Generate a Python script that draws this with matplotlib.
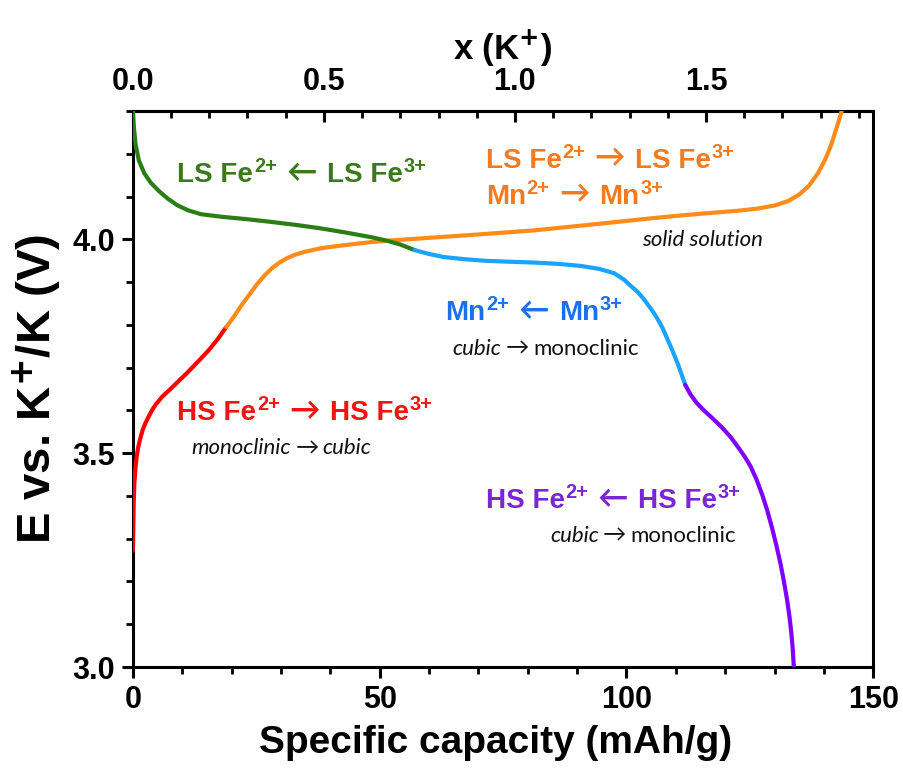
import matplotlib
matplotlib.use("Agg")
import matplotlib.pyplot as plt
from matplotlib.font_manager import FontProperties
import numpy as np

# ---- charge curve (K+ extraction) ----
charge_cap = [0.0, 0.08, 0.16, 0.3, 0.55, 0.8, 1.1, 1.5, 2.0, 2.6, 3.3, 4.0, 4.7,
              6.0, 7.6, 9.2, 10.9, 13.0, 15.3, 17.2, 18.9, 20.5, 22.0, 23.6, 25.2,
              26.7, 28.2, 29.7, 31.2, 32.8, 34.8, 37.9, 41.0, 44.6, 48.5, 52.8,
              59.0, 66.7, 74.0, 81.1, 88.0, 95.6, 103.0, 110.0, 116.0, 122.5,
              126.5, 130.2, 132.8, 135.0, 137.0, 138.8, 140.3, 141.5, 142.6, 143.6]
charge_volt = [3.272, 3.330, 3.385, 3.430, 3.469, 3.495, 3.515, 3.535, 3.555, 3.572,
               3.588, 3.603, 3.615, 3.633, 3.650, 3.668, 3.687, 3.712, 3.740, 3.767,
               3.795, 3.820, 3.846, 3.871, 3.896, 3.916, 3.933, 3.946, 3.956, 3.964,
               3.971, 3.979, 3.984, 3.989, 3.994, 3.998, 4.003, 4.009, 4.015, 4.021,
               4.029, 4.038, 4.047, 4.055, 4.061, 4.067, 4.072, 4.080, 4.090, 4.105,
               4.126, 4.155, 4.188, 4.222, 4.262, 4.300]
charge_breaks = [18.9]
charge_colors = ["#ff0000", "#ff8c1a"]

# ---- discharge curve (K+ insertion) ----
discharge_cap = [0.0, 0.2, 0.55, 1.2, 2.3, 3.6, 5.2, 7.0, 9.0, 11.2, 13.8, 18.0,
                 23.4, 28.0, 33.0, 38.0, 42.7, 48.4, 51.5, 54.2, 57.1, 60.0, 62.9,
                 67.0, 71.5, 76.0, 81.1, 86.0, 90.8, 94.5, 97.5, 99.5, 101.0, 102.2,
                 103.4, 104.5, 105.5, 106.4, 107.3, 108.1, 108.9, 109.7, 110.5,
                 111.2, 111.9, 113.0, 114.2, 115.7, 117.4, 119.2, 121.1, 122.5,
                 123.9, 125.2, 126.4, 127.5, 128.5, 129.5, 130.4, 131.2, 131.9,
                 132.5, 133.0, 133.4, 133.7, 133.9]
discharge_volt = [4.300, 4.262, 4.222, 4.185, 4.155, 4.133, 4.114, 4.096, 4.080,
                  4.068, 4.059, 4.053, 4.047, 4.041, 4.034, 4.026, 4.017, 4.005,
                  3.997, 3.988, 3.975, 3.966, 3.959, 3.954, 3.950, 3.948, 3.946,
                  3.943, 3.938, 3.931, 3.921, 3.906, 3.890, 3.878, 3.862, 3.845,
                  3.829, 3.812, 3.793, 3.772, 3.751, 3.729, 3.706, 3.683, 3.660,
                  3.637, 3.618, 3.600, 3.582, 3.562, 3.538, 3.516, 3.493, 3.468,
                  3.437, 3.403, 3.367, 3.325, 3.283, 3.242, 3.200, 3.160, 3.120,
                  3.080, 3.040, 3.000]
discharge_breaks = [57.1, 111.9]
discharge_colors = ["#2b7d16", "#1aa3ff", "#8000ff"]

MAH_PER_K = 77.4  # mAh/g per mole of K+

x_ticks = [0, 50, 100, 150]
y_ticks = [3.0, 3.5, 4.0]
k_ticks = [0.0, 0.5, 1.0, 1.5]

SANS_B = ["Liberation Sans", "DejaVu Sans"]
NOTE_F = ["Lato", "DejaVu Sans"]


def draw_segments(ax, cap, volt, breaks, colors):
    cap = np.asarray(cap)
    volt = np.asarray(volt)
    edges = [-np.inf] + list(breaks) + [np.inf]
    for lo, hi, c in zip(edges[:-1], edges[1:], colors):
        m = (cap >= lo) & (cap <= hi)
        ax.plot(cap[m], volt[m], color=c, lw=3.0, solid_capstyle="round",
                solid_joinstyle="round", zorder=3)


def rich_text(ax, x, y, parts, color, size):
    """Lay text pieces side by side on one baseline.

    parts: list of (text, style, gap_before_pt)
    styles: 'b' bold, 'sup' bold superscript, 'arr' bold arrow,
            'it' italic note, 'rm' upright note, 'narr' note arrow
    """
    prev = None
    for text, style, gap in parts:
        dy = 0.0
        if style == "b":
            kw = dict(family=SANS_B, weight="bold", fontsize=size)
        elif style == "sup":
            kw = dict(family=SANS_B, weight="bold", fontsize=size * 0.72)
            dy = size * 0.36
        elif style == "arr":
            kw = dict(family=NOTE_F, weight="bold", fontsize=size * 1.1)
        elif style == "it":
            kw = dict(family=NOTE_F, style="italic", fontsize=size)
        elif style == "narr":
            kw = dict(family=NOTE_F, fontsize=size * 1.05)
        else:
            kw = dict(family=NOTE_F, fontsize=size)
        if prev is None:
            t = ax.annotate(text, xy=(x, y), xycoords="data",
                            xytext=(gap, dy), textcoords="offset points",
                            ha="left", va="baseline", color=color, **kw)
        else:
            t = ax.annotate(text, xy=(1.0, y), xycoords=(prev, "data"),
                            xytext=(gap, dy), textcoords="offset points",
                            ha="left", va="baseline", color=color, **kw)
        prev = t
    return prev


fig = plt.figure(figsize=(9.04, 7.72), dpi=100)
ax = fig.add_axes([0.147, 0.136, 0.819, 0.720])

draw_segments(ax, charge_cap, charge_volt, charge_breaks, charge_colors)
draw_segments(ax, discharge_cap, discharge_volt, discharge_breaks, discharge_colors)

ax.set_xlim(0, 150)
ax.set_ylim(3.0, 4.3)
ax.set_xticks(x_ticks)
ax.set_xticklabels([str(t) for t in x_ticks])
ax.set_yticks(y_ticks)
ax.set_yticklabels([f"{t:.1f}" for t in y_ticks])
ax.set_xticks(np.arange(0, 151, 10), minor=True)
ax.set_yticks(np.arange(3.0, 4.31, 0.1), minor=True)
ax.tick_params(axis="both", which="major", direction="out", length=8, width=2.2, pad=5)
ax.tick_params(axis="both", which="minor", direction="out", length=5, width=2.0)
ax.tick_params(axis="x", which="major", pad=5)
tick_fp = FontProperties(family="Liberation Sans", weight="bold", size=22)
for lab in ax.get_xticklabels() + ax.get_yticklabels():
    lab.set_fontproperties(tick_fp)
for s in ax.spines.values():
    s.set_linewidth(2.2)

ax.set_xlabel("Specific capacity (mAh/g)", fontsize=28, labelpad=7,
              family=SANS_B, weight="bold")
ax.xaxis.label.set_x(0.49)
ax.set_ylabel("E vs. K$^{\\mathbf{+}}$/K (V)", fontsize=34, labelpad=6,
              family=SANS_B, weight="bold")

top = ax.secondary_xaxis("top", functions=(lambda c: c / MAH_PER_K,
                                           lambda k: k * MAH_PER_K))
top.set_xticks(k_ticks)
top.set_xticklabels([f"{t:.1f}" for t in k_ticks])
top.set_xticks(np.arange(0, 1.95, 0.1), minor=True)
top.tick_params(which="major", direction="in", length=8, width=2.2, pad=10)
top.tick_params(which="minor", direction="in", length=5, width=2.0)
for lab in top.get_xticklabels():
    lab.set_fontproperties(FontProperties(family="Liberation Sans", weight="bold", size=22))
top.spines["top"].set_linewidth(2.2)
top.set_xlabel("x (K$^{\\mathbf{+}}$)", fontsize=25, labelpad=6,
               family=SANS_B, weight="bold")

plt.rcParams["mathtext.fontset"] = "custom"
plt.rcParams["mathtext.bf"] = "Liberation Sans:bold"

# ---- redox process labels ----
GAP = 7
rich_text(ax, 9.0, 4.134,
          [("LS Fe", "b", 0), ("2+", "sup", 0.5), ("←", "arr", GAP),
           ("LS Fe", "b", GAP), ("3+", "sup", 0.5)], "#3b7a1c", 20)
rich_text(ax, 71.5, 4.168,
          [("LS Fe", "b", 0), ("2+", "sup", 0.5), ("→", "arr", GAP),
           ("LS Fe", "b", GAP), ("3+", "sup", 0.5)], "#f47a20", 20)
rich_text(ax, 71.5, 4.084,
          [("Mn", "b", 0), ("2+", "sup", 0.5), ("→", "arr", GAP),
           ("Mn", "b", GAP), ("3+", "sup", 0.5)], "#f47a20", 20)
rich_text(ax, 103.2, 3.984, [("solid solution", "it", 0)], "#111111", 16)

rich_text(ax, 63.3, 3.812,
          [("Mn", "b", 0), ("2+", "sup", 0.5), ("←", "arr", GAP),
           ("Mn", "b", GAP), ("3+", "sup", 0.5)], "#1c70ee", 20)
rich_text(ax, 64.8, 3.730,
          [("cubic", "it", 0), ("→", "narr", 3), ("monoclinic", "rm", 3)],
          "#111111", 16)

rich_text(ax, 9.0, 3.578,
          [("HS Fe", "b", 0), ("2+", "sup", 0.5), ("→", "arr", GAP),
           ("HS Fe", "b", GAP), ("3+", "sup", 0.5)], "#f01414", 20)
rich_text(ax, 11.9, 3.498,
          [("monoclinic", "it", 0), ("→", "narr", 3), ("cubic", "it", 3)],
          "#111111", 16)

rich_text(ax, 71.5, 3.372,
          [("HS Fe", "b", 0), ("2+", "sup", 0.5), ("←", "arr", GAP),
           ("HS Fe", "b", GAP), ("3+", "sup", 0.5)], "#7a26d3", 20)
rich_text(ax, 84.5, 3.293,
          [("cubic", "it", 0), ("→", "narr", 3), ("monoclinic", "rm", 3)],
          "#111111", 16)

fig.savefig("out.png", dpi=100)
